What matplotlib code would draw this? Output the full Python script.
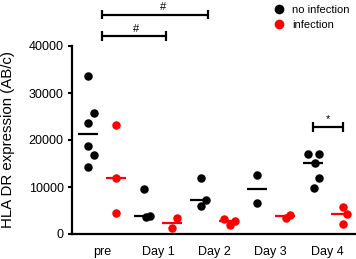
import numpy as np
import matplotlib
matplotlib.use("Agg")
import matplotlib.pyplot as plt
from matplotlib.lines import Line2D

plt.rcParams['font.family'] = ['Liberation Sans', 'DejaVu Sans']

# ---- data ----
categories = ["pre", "Day 1", "Day 2", "Day 3", "Day 4"]
no_infection = [
    [33700, 25800, 23700, 18700, 16800, 14300],
    [9500, 3550, 3830],
    [11840, 7230, 5960],
    [12550, 6530],
    [16960, 16960, 15170, 11850, 9720],
]
infection = [
    [23200, 11850, 4400],
    [3470, 1340],
    [3130, 2770, 1910],
    [3470, 4040],
    [5810, 4190, 2060],
]
series_labels = ["no infection", "infection"]
yticks = [0, 10000, 20000, 30000, 40000]

# significance annotations: (x_start, x_end, y, label, label_x)
sig_bars = [
    (0.0, 1.88, 46700, "#", 1.09),
    (0.0, 1.14, 42100, "#", 0.6),
    (3.75, 4.29, 22800, "*", 4.02),
]

# ---- layout (horizontal point spread inside each column, px) ----
jitter_none = [[0, 6, 0, 0, 6, 0], [0, 1.5, 6], [0.5, 5.5, 0.5], [0.5, 0.5], [-5, 6, 2, 6, 1]]
jitter_inf = [[0, 0, 0], [5, 0], [-5, 6, 1], [1, 5], [1.5, 5.5, 1.5]]

W, H = 356, 259
fig = plt.figure(figsize=(W / 100, H / 100), dpi=100)
ax = fig.add_axes([72 / W, 25 / H, (W - 72) / W, 188 / H])

unit_px = 56.25
off = 0.25
half = 10 / unit_px
colors = ["black", "#ff0000"]

for i, cat in enumerate(categories):
    for s, (vals, jit, col) in enumerate([(no_infection[i], jitter_none[i], colors[0]),
                                          (infection[i], jitter_inf[i], colors[1])]):
        cx = i - off if s == 0 else i + off
        xs = cx + np.array(jit) / unit_px
        ax.plot(xs, vals, 'o', color=col, markersize=6.1, markeredgewidth=0, zorder=3, clip_on=False)
        med = np.median(vals)
        ax.plot([cx - half, cx + half], [med, med], color=col, lw=1.6, zorder=4,
                solid_capstyle='butt')

ax.set_xlim(-0.533, 4.516)
ax.set_ylim(0, 40000)
ax.set_xticks(range(len(categories)))
ax.set_xticklabels(categories, fontsize=9)
ax.set_yticks(yticks)
ax.set_yticklabels([str(t) for t in yticks], fontsize=9)
ax.tick_params(axis='x', length=0, pad=8.5)
ax.tick_params(axis='y', length=3, width=1.5, pad=3)
for sp in ['top', 'right']:
    ax.spines[sp].set_visible(False)
ax.spines['left'].set_linewidth(1.6)
ax.spines['bottom'].set_linewidth(1.6)
ax.set_ylabel("HLA DR expression (AB/c)", fontsize=10.8)
ax.yaxis.set_label_coords(-0.2, 0.5)

cap = 1000
for x0, x1, y, lab, lx in sig_bars:
    ax.plot([x0, x1], [y, y], color='black', lw=1.6, clip_on=False, solid_capstyle='butt')
    for xx in (x0, x1):
        ax.plot([xx, xx], [y - cap, y + cap], color='black', lw=1.6, clip_on=False,
                solid_capstyle='butt')
    ax.text(lx, y + 500, lab, ha='center', va='bottom', fontsize=8, clip_on=False)

handles = [Line2D([], [], marker='o', linestyle='none', color=c, markersize=7, markeredgewidth=0)
           for c in colors]
fig.legend(handles, series_labels, loc='upper left', bbox_to_anchor=(273 / W, 1 - 5 / H),
           frameon=False, fontsize=8.0, handlelength=1.0, handletextpad=0.75,
           labelspacing=0.45, borderpad=0, borderaxespad=0)

fig.savefig("out.png", dpi=100)
